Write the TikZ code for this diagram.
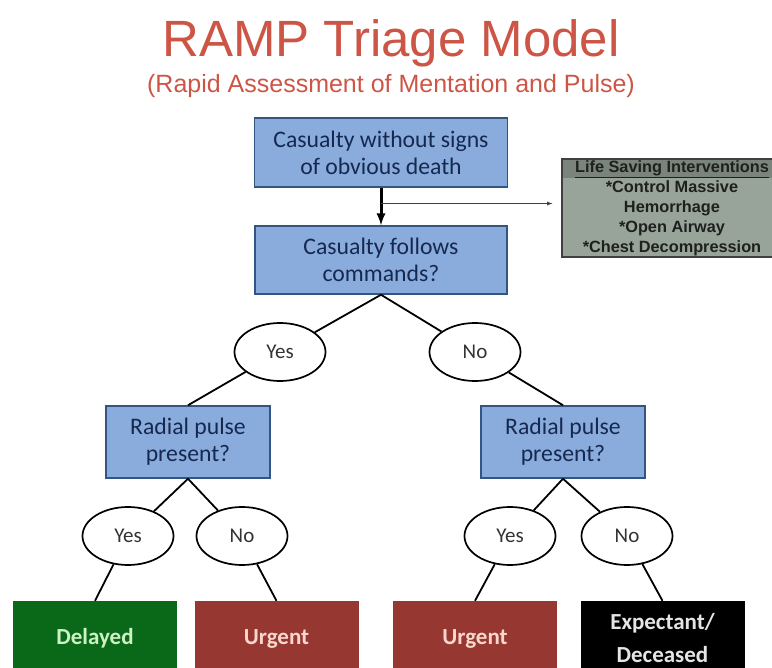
\documentclass[tikz,border=0pt]{standalone}
\usepackage{fontspec}
\setmainfont{Carlito}
\newfontfamily\arialfont{Liberation Sans}
\usetikzlibrary{calc, shapes.geometric}

\definecolor{titlered}{RGB}{205,85,70}
\definecolor{boxblue}{RGB}{137,172,220}
\definecolor{boxedge}{RGB}{50,85,130}
\definecolor{boxtext}{RGB}{22,40,80}
\definecolor{lsigray}{RGB}{152,164,154}
\definecolor{lsihead}{RGB}{122,132,125}
\definecolor{lsitext}{RGB}{30,32,30}
\definecolor{delgreen}{RGB}{10,105,25}
\definecolor{delgreentext}{RGB}{205,242,195}
\definecolor{urgred}{RGB}{150,55,50}
\definecolor{urgtext}{RGB}{250,215,205}

\begin{document}
\begin{tikzpicture}[
        x=1pt, y=-1pt,
        question/.style={
          draw=boxedge, fill=boxblue, line width=1.5pt, text=boxtext, align=center,
          font=\fontsize{23.7}{27}\selectfont, inner sep=0pt
        },
        answer/.style={
          ellipse, draw, line width=1.7pt, minimum width=91pt, minimum height=58pt,
          inner sep=0pt, text=black!80, font=\fontsize{21}{24}\selectfont
        },
        category/.style={
          minimum width=164pt, minimum height=75pt, inner sep=0pt, align=center,
          font=\bfseries\fontsize{23}{33}\selectfont
        },
        treeline/.style={line width=1.8pt},
        >=latex,
      ]
        \clip (0,0) rectangle (772,668);

        % Heading
        \node [anchor=base, text=titlered, font=\arialfont\fontsize{51}{60}\selectfont]
          (title) at (391,57) {RAMP Triage Model};
        \node [anchor=base, text=titlered, font=\arialfont\fontsize{25}{30}\selectfont]
          (subtitle) at ($(title.base)+(0,36)$) {(Rapid Assessment of Mentation and Pulse)};

        % Questions
        \node [question, minimum width=253pt, minimum height=69pt] (casualty) at (381,152.5)
          {Casualty without signs\\of obvious death};
        \node [question, minimum width=252pt, minimum height=68pt] (commands) at (381,260)
          {Casualty follows\\commands?};
        \node [question, minimum width=164pt, minimum height=72pt] (pulseL) at (188,442)
          {Radial pulse\\present?};
        \node [question, minimum width=164pt, minimum height=72pt] (pulseR) at (563,442)
          {Radial pulse\\present?};

        % Life saving interventions
        \node [draw=black!75, fill=lsigray, line width=1.2pt, minimum width=220pt, minimum height=98pt,
          inner sep=0pt, align=center, text=lsitext, font=\arialfont\bfseries\fontsize{16.3}{20}\selectfont,
          path picture={\fill [lsihead] (path picture bounding box.north west)
            rectangle ([yshift=-19pt]path picture bounding box.north east);}]
          (lsi) at (672,208)
          {\underline{Life Saving Interventions}\\*Control Massive\\Hemorrhage\\*Open Airway\\*Chest Decompression};

        % Yes / No
        \node [answer] (yesA) at (280,352) {Yes};
        \node [answer] (noA) at (475,352) {No};
        \node [answer] (yesL) at (128,536) {Yes};
        \node [answer] (noL) at (242,536) {No};
        \node [answer] (yesR) at (510,536) {Yes};
        \node [answer] (noR) at (627,536) {No};

        % Triage categories
        \node [category, fill=delgreen, text=delgreentext] (delayed) at (95,638.5) {Delayed};
        \node [category, fill=urgred, text=urgtext] (urgentL) at (276.5,638.5) {Urgent};
        \node [category, fill=urgred, text=urgtext] (urgentR) at (475,638.5) {Urgent};
        \node [category, fill=black, text=white!90!black] (expectant) at (662.5,638.5) {Expectant/\\Deceased};

        % Connectors
        \draw [->, line width=3pt] (casualty) -- (commands);
        \coordinate (split) at ($(casualty.south)!0.42!(commands.north)$);
        \draw [->, line width=0.8pt, black!75, shorten >=9pt] (split) -- (split -| lsi.west);

        \draw [treeline] (commands.south) -- (yesA);
        \draw [treeline] (commands.south) -- (noA);
        \draw [treeline] (yesA) -- (pulseL.north);
        \draw [treeline] (noA) -- (pulseR.north);
        \draw [treeline] (pulseL.south) -- (yesL);
        \draw [treeline] (pulseL.south) -- (noL);
        \draw [treeline] (pulseR.south) -- (yesR);
        \draw [treeline] (pulseR.south) -- (noR);
        \draw [treeline] (yesL) -- (delayed.north);
        \draw [treeline] (noL) -- (urgentL.north);
        \draw [treeline] (yesR) -- (urgentR.north);
        \draw [treeline] (noR) -- (expectant.north);

      \end{tikzpicture}
\end{document}
